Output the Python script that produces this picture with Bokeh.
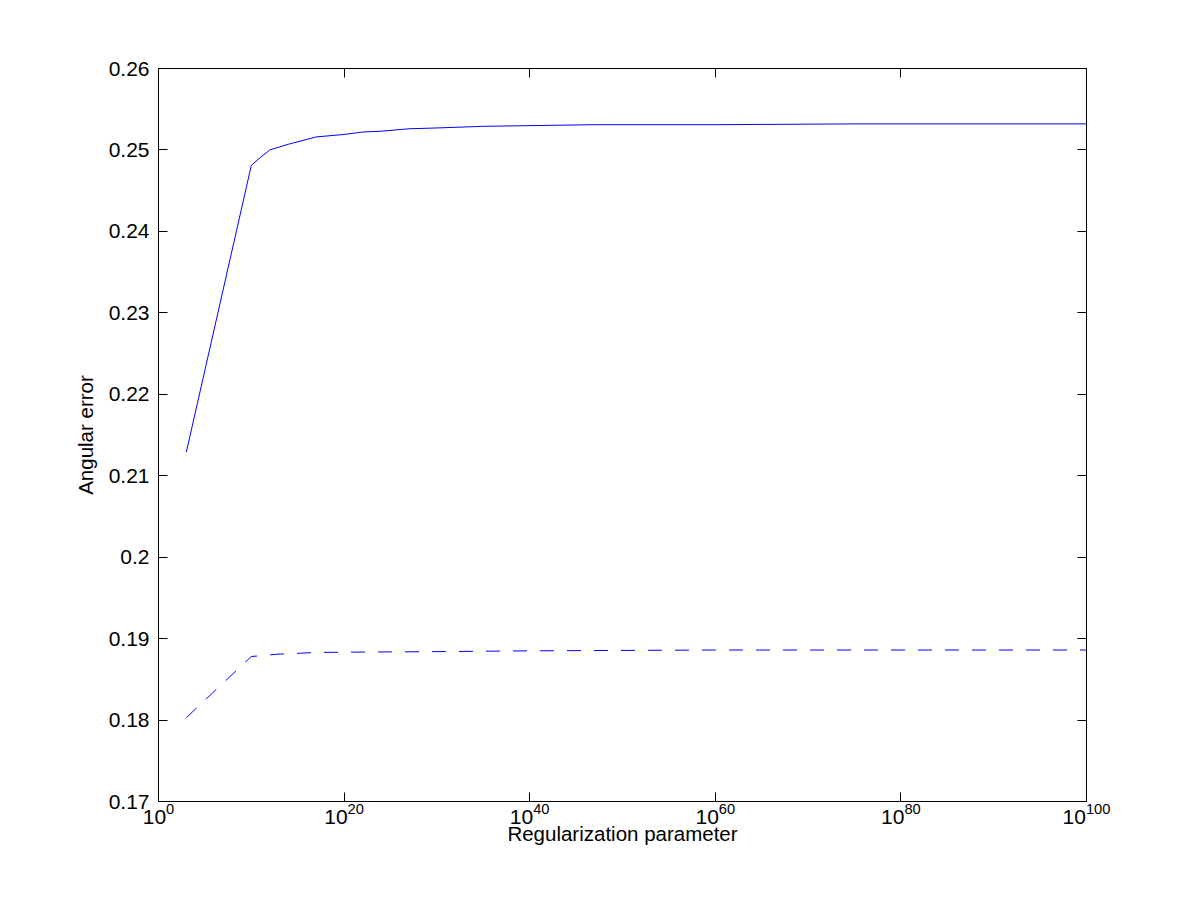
from bokeh.plotting import figure
from bokeh.models import (LogAxis, LinearAxis, FixedTicker, CustomJSTickFormatter,
                          Range1d, LogTickFormatter)
from bokeh.embed import file_html
from bokeh.resources import INLINE

# --- data ---
reg_param_train = [1e3, 1e10, 1e11, 1e12, 1e14, 1e17, 1e20, 1e22, 1e24, 1e27,
                   1e30, 1e35, 1e41, 1e47, 1e60, 1e75, 1e100]
err_train = [0.2129, 0.2481, 0.2491, 0.2500, 0.2507, 0.2516, 0.2519, 0.2522,
             0.2523, 0.2526, 0.2527, 0.2529, 0.2530, 0.2531, 0.2531, 0.2532, 0.2532]

reg_param_test = [1e3, 1e10, 1e12, 1e13, 1e15, 1e17, 1e22, 1e30, 1e40, 1e60, 1e100]
err_test = [0.1803, 0.1878, 0.1880, 0.1881, 0.1882, 0.1883, 0.18835, 0.1884,
            0.1885, 0.1886, 0.1886]

x_ticks = [1e0, 1e20, 1e40, 1e60, 1e80, 1e100]
y_ticks = [0.17, 0.18, 0.19, 0.20, 0.21, 0.22, 0.23, 0.24, 0.25, 0.26]

FONT = "Liberation Sans"
FS_TICK = "21px"
FS_LABEL = "20.5px"

p = figure(width=1200, height=900, x_axis_type="log",
           x_range=Range1d(1e0, 1e100), y_range=Range1d(0.17, 0.26),
           output_backend="svg", toolbar_location=None,
           min_border_left=158, min_border_right=114,
           min_border_top=68, min_border_bottom=99)
p.background_fill_color = "white"
p.border_fill_color = "white"
p.outline_line_color = "black"
p.outline_line_width = 1
p.grid.visible = False

p.line(reg_param_train, err_train, line_color="#0000ff", line_width=1)
p.line(reg_param_test, err_test, line_color="#0000ff", line_width=1,
       line_dash="14 13")

yfmt = CustomJSTickFormatter(code="return String(Math.round(tick*100)/100);")
blank = CustomJSTickFormatter(code="return '';")

def style(ax):
    ax.axis_line_color = "black"
    ax.major_tick_line_color = "black"
    ax.major_tick_in = 9
    ax.major_tick_out = 0
    ax.minor_tick_in = 0
    ax.minor_tick_out = 0
    ax.major_label_text_font = FONT
    ax.major_label_text_font_size = FS_TICK
    ax.major_label_text_color = "black"
    ax.axis_label_text_font = FONT
    ax.axis_label_text_font_size = FS_LABEL
    ax.axis_label_text_font_style = "normal"
    ax.axis_label_text_color = "black"

xa = p.xaxis[0]
xa.ticker = FixedTicker(ticks=x_ticks)
xa.formatter = LogTickFormatter()
xa.axis_label = "Regularization parameter"
xa.major_label_standoff = 1
xa.axis_label_standoff = -5
style(xa)

ya = p.yaxis[0]
ya.ticker = FixedTicker(ticks=y_ticks)
ya.formatter = yfmt
ya.axis_label = "Angular error"
ya.major_label_standoff = 9
ya.axis_label_standoff = 9
style(ya)

top = LogAxis(ticker=FixedTicker(ticks=x_ticks), formatter=blank)
style(top)
top.major_label_standoff = 0
p.add_layout(top, "above")
right = LinearAxis(ticker=FixedTicker(ticks=y_ticks), formatter=blank)
style(right)
right.major_label_standoff = 0
p.add_layout(right, "right")

open("out.html", "w").write(file_html(p, INLINE))
